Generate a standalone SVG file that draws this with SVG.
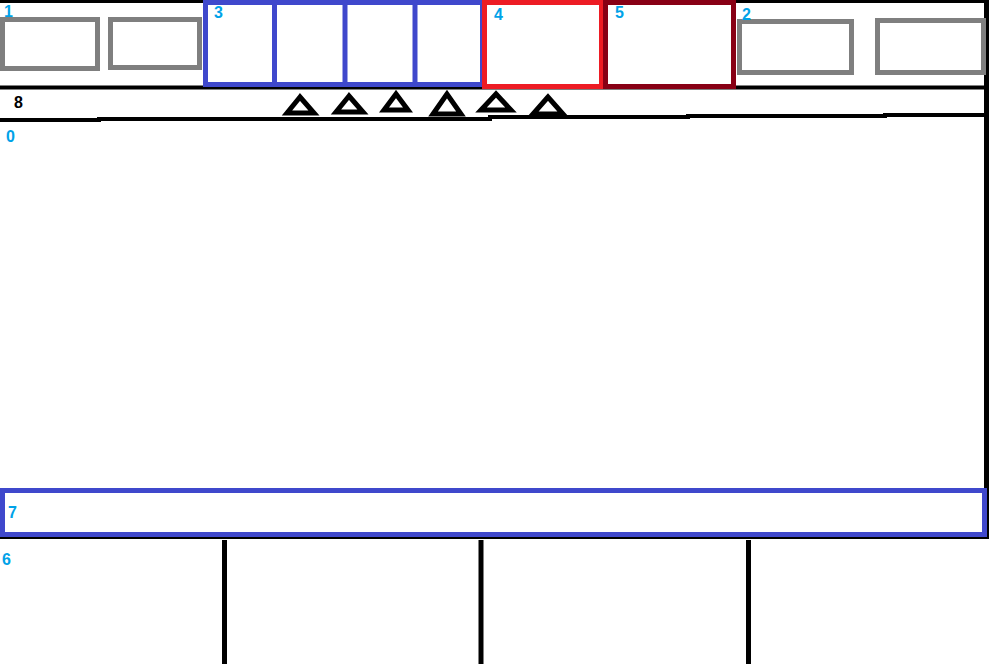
<svg xmlns="http://www.w3.org/2000/svg" width="989" height="664" viewBox="0 0 989 664">
<style>
.gray{fill:none;stroke:#7f7f7f;stroke-width:5}
.blue{fill:none;stroke:#3f48cc;stroke-width:5}
.red{fill:none;stroke:#ed1c24;stroke-width:5}
.dred{fill:none;stroke:#880015;stroke-width:5}
.blk{fill:none;stroke:#000;stroke-width:4}
.tri{fill:none;stroke:#000;stroke-width:5;stroke-linejoin:miter}
.lbl{font-family:"Liberation Sans",Arial,sans-serif;font-weight:bold;font-size:16px;fill:#00a2e8}
.lblk{fill:#000}
</style>
<rect width="989" height="664" fill="#fff"/>
<g id="frame">
<line class="blk" x1="0" y1="1.5" x2="989" y2="1.5" style="stroke-width:3"/>
<line class="blk" x1="0" y1="87.5" x2="989" y2="87.5"/>
<polyline class="blk" points="0,120 99,120 99,119 490,119 490,117 688,117 688,116 885,116 885,115 987,115"/>
<line class="blk" x1="986.5" y1="0" x2="986.5" y2="539" style="stroke-width:5"/>
<line class="blk" x1="0" y1="538" x2="989" y2="538" style="stroke-width:2"/>
</g>
<g id="node-1">
<rect class="gray" x="2.5" y="19.5" width="95" height="49"/>
<rect class="gray" x="110.5" y="19.5" width="89" height="48"/>
<text class="lbl" x="4" y="17">1</text>
</g>
<g id="node-3">
<rect class="blue" x="205.5" y="2.5" width="277" height="82"/>
<line class="blue" x1="274.5" y1="0" x2="274.5" y2="85"/>
<line class="blue" x1="345" y1="0" x2="345" y2="85"/>
<line class="blue" x1="415" y1="0" x2="415" y2="85"/>
<text class="lbl" x="214" y="18">3</text>
</g>
<g id="node-4">
<rect class="red" x="484.5" y="2.5" width="117" height="84"/>
<text class="lbl" x="494" y="20">4</text>
</g>
<g id="node-5">
<rect class="dred" x="605.5" y="2.5" width="128" height="84"/>
<text class="lbl" x="615" y="18">5</text>
</g>
<g id="node-2">
<rect class="gray" x="739.5" y="21.5" width="112" height="51"/>
<rect class="gray" x="877.5" y="20.5" width="106" height="52"/>
<text class="lbl" x="742" y="20">2</text>
</g>
<g id="node-8">
<text class="lbl lblk" x="14" y="108">8</text>
<g id="triangles">
<polygon class="tri" points="300,97 287,113 314,113"/>
<polygon class="tri" points="349,96 336,112 363,112"/>
<polygon class="tri" points="396,94 384,110 408,110"/>
<polygon class="tri" points="447,94 433,114 461,114"/>
<polygon class="tri" points="496,94 481,110 511,110"/>
<polygon class="tri" points="548,97 533,114 563,114"/>
</g>
</g>
<g id="node-0">
<text class="lbl" x="6" y="142">0</text>
</g>
<g id="node-7">
<rect class="blue" x="2.5" y="490.5" width="982" height="44"/>
<text class="lbl" x="8" y="518">7</text>
</g>
<g id="node-6">
<line class="blk" x1="224.5" y1="540" x2="224.5" y2="664" style="stroke-width:5"/>
<line class="blk" x1="481" y1="540" x2="481" y2="664" style="stroke-width:5"/>
<line class="blk" x1="748.5" y1="540" x2="748.5" y2="664" style="stroke-width:5"/>
<text class="lbl" x="2" y="565">6</text>
</g>
<g id="connectors"></g>
</svg>
